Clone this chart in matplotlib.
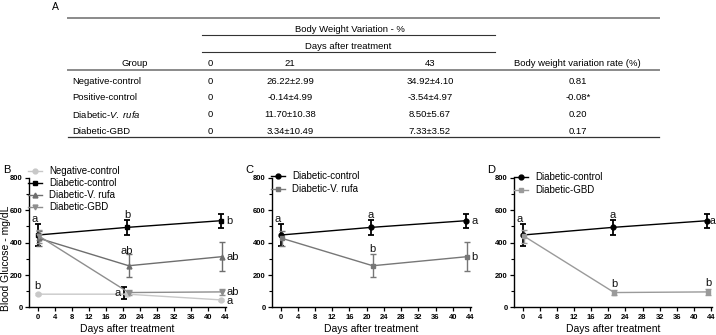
import matplotlib
matplotlib.use("Agg")
import matplotlib.pyplot as plt
from matplotlib.ticker import MultipleLocator

plt.rcParams['font.family'] = ['Liberation Sans', 'DejaVu Sans']
plt.rcParams['mathtext.fontset'] = 'custom'
plt.rcParams['mathtext.rm'] = 'Liberation Sans'
plt.rcParams['mathtext.it'] = 'Liberation Sans:italic'

# ---- table data (panel A)
groups = ["Negative-control", "Positive-control", r"Diabetic-$\mathit{V.\ rufa}$", "Diabetic-GBD"]
day0_vals = ["0", "0", "0", "0"]
day21_vals = ["26.22\u00b12.99", "-0.14\u00b14.99", "11.70\u00b110.38", "3.34\u00b110.49"]
day43_vals = ["34.92\u00b14.10", "-3.54\u00b14.97", "8.50\u00b15.67", "7.33\u00b13.52"]
rate_vals = ["0.81", "-0.08*", "0.20", "0.17"]

# ---- blood glucose data (panels B-D)
days = [0, 21, 43]
neg_mean = [82, 82, 47]
neg_err = [6, 10, 8]
dc_mean = [446, 493, 534]
dc_err = [65, 45, 43]
vr_mean = [425, 257, 313]
vr_err = [45, 72, 88]
gbd_mean = [438, 92, 96]
gbd_err = [40, 17, 20]
# extra black bar seen around day 20 in panel B
pos_day = [20.4]
pos_mean = [91]
pos_err = [37]

fig = plt.figure(figsize=(7.16, 3.35), dpi=100)

# ---------------- table ----------------
tab = fig.add_axes([0, 0, 1, 1])
tab.set_xlim(0, 716)
tab.set_ylim(335, 0)
tab.axis('off')
fs = 6.8
tab.text(55, 7, "A", fontsize=7.5, ha='center', va='center')
tab.plot([68, 659], [17.7, 17.7], color='#8a8a8a', lw=1.4)
tab.text(350, 29.5, "Body Weight Variation - %", fontsize=fs, ha='center', va='center')
tab.plot([202, 495], [35, 35], color='#333333', lw=0.8)
tab.text(348, 46.5, "Days after treatment", fontsize=fs, ha='center', va='center')
tab.plot([202, 495], [52, 52], color='#333333', lw=0.8)
hdr_y = 63
tab.text(135, hdr_y, "Group", fontsize=fs, ha='center', va='center')
tab.text(210, hdr_y, "0", fontsize=fs, ha='center', va='center')
tab.text(290, hdr_y, "21", fontsize=fs, ha='center', va='center')
tab.text(430, hdr_y, "43", fontsize=fs, ha='center', va='center')
tab.text(577, hdr_y, "Body weight variation rate (%)", fontsize=fs, ha='center', va='center')
tab.plot([68, 659], [69.5, 69.5], color='#8a8a8a', lw=1.4)
row_y = [81, 98, 114.5, 131]
for i, g in enumerate(groups):
    y = row_y[i]
    tab.text(72, y, g, fontsize=fs, ha='left', va='center')
    tab.text(210, y, day0_vals[i], fontsize=fs, ha='center', va='center')
    tab.text(290, y, day21_vals[i], fontsize=fs, ha='center', va='center')
    tab.text(430, y, day43_vals[i], fontsize=fs, ha='center', va='center')
    tab.text(578, y, rate_vals[i], fontsize=fs, ha='center', va='center')
tab.plot([68, 659], [136.5, 136.5], color='#333333', lw=0.9)


# ---------------- plots ----------------
def style_axis(ax):
    ax.set_xlim(-2, 44.2)
    ax.set_ylim(0, 800)
    for s in ['top', 'right']:
        ax.spines[s].set_visible(False)
    for s in ['left', 'bottom']:
        ax.spines[s].set_linewidth(1.0)
    ax.set_xticks(range(0, 45, 4))
    ax.set_yticks([0, 200, 400, 600, 800])
    ax.yaxis.set_minor_locator(MultipleLocator(100))
    ax.tick_params(axis='both', which='major', length=3, width=0.9, pad=1.5, labelsize=5.5)
    ax.tick_params(axis='y', which='minor', length=2, width=0.8)
    for lab in ax.get_xticklabels() + ax.get_yticklabels():
        lab.set_fontweight('bold')
    ax.set_xlabel("Days after treatment", fontsize=7.5, labelpad=2)
    ax.patch.set_alpha(0)


def series(ax, x, m, e, color, marker, label, lw=1.0, ms=3.5, elw=1.0):
    c = ax.errorbar(x, m, yerr=e, color=color, marker=marker, ms=ms, lw=lw,
                    elinewidth=elw, capsize=2.5, capthick=elw)
    line = c.lines[0]
    line.set_label(label)
    return line


def letter(ax, x, y, s, ha='center', va='bottom', size=8):
    ax.text(x, y, s, fontsize=size, ha=ha, va=va, color='#111111')


def add_legend(ax, handles, x, y, spacing):
    ax.legend(handles=handles, loc='upper left', bbox_to_anchor=(x / 716, 1 - y / 335),
              bbox_transform=fig.transFigure, frameon=False, fontsize=7,
              handlelength=1.4, handletextpad=0.8, labelspacing=spacing,
              borderaxespad=0, borderpad=0)


bottom, height = 0.0821, 0.388
axB = fig.add_axes([0.0408, bottom, 0.2743, height])
axC = fig.add_axes([0.3799, bottom, 0.2777, height])
axD = fig.add_axes([0.7179, bottom, 0.2764, height])

# panel B
h1 = series(axB, days, neg_mean, neg_err, '#c8c8c8', 'o', "Negative-control")
h2 = series(axB, days, dc_mean, dc_err, 'black', 's', "Diabetic-control", elw=1.3)
h3 = series(axB, [d + 0.4 for d in days], vr_mean, vr_err, '#6e6e6e', '^', "Diabetic-V. rufa")
h4 = series(axB, [d + 0.4 for d in days], gbd_mean, gbd_err, '#8e8e8e', 'v', "Diabetic-GBD")
axB.errorbar(pos_day, pos_mean, yerr=pos_err, color='black', fmt='none',
             elinewidth=1.3, capsize=2.5, capthick=1.3)
letter(axB, -0.8, 512, "a")
letter(axB, 21, 536, "b")
letter(axB, 44.4, dc_mean[2], "b", ha='left', va='center')
letter(axB, 21, 318, "ab")
letter(axB, 44.4, vr_mean[2], "ab", ha='left', va='center')
letter(axB, 0, 100, "b")
letter(axB, 19.6, gbd_mean[1], "a", ha='right', va='center')
letter(axB, 44.4, gbd_mean[2], "ab", ha='left', va='center')
letter(axB, 44.4, neg_mean[2] - 4, "a", ha='left', va='center')
style_axis(axB)
axB.set_ylabel("Blood Glucose - mg/dL", fontsize=7.5)
axB.yaxis.set_label_coords(-0.095, 0.38)
add_legend(axB, [h1, h2, h3, h4], 28, 166, 0.22)
fig.text(7 / 716, 1 - 170 / 335, "B", fontsize=8, ha='center', va='center')

# panel C
h1 = series(axC, days, dc_mean, dc_err, 'black', 'o', "Diabetic-control", elw=1.3)
h2 = series(axC, [d + 0.4 for d in days], vr_mean, vr_err, '#777777', 's', "Diabetic-V. rufa")
letter(axC, -0.8, 512, "a")
letter(axC, 21, 536, "a")
letter(axC, 44.4, dc_mean[2], "a", ha='left', va='center')
letter(axC, 21.4, 332, "b")
letter(axC, 44.4, vr_mean[2], "b", ha='left', va='center')
style_axis(axC)
add_legend(axC, [h1, h2], 271, 171, 0.35)
fig.text(249 / 716, 1 - 170 / 335, "C", fontsize=8, ha='center', va='center')

# panel D
h1 = series(axD, days, dc_mean, dc_err, 'black', 'o', "Diabetic-control", elw=1.3)
h2 = series(axD, [d + 0.4 for d in days], gbd_mean, gbd_err, '#9a9a9a', 's', "Diabetic-GBD")
letter(axD, -0.8, 512, "a")
letter(axD, 21, 536, "a")
letter(axD, 43.7, dc_mean[2], "a", ha='left', va='center', size=7.5)
letter(axD, 21.4, 112, "b")
letter(axD, 43.4, 118, "b")
style_axis(axD)
add_legend(axD, [h1, h2], 514, 172, 0.35)
fig.text(491 / 716, 1 - 170 / 335, "D", fontsize=8, ha='center', va='center')

fig.savefig("out.png", dpi=100)
